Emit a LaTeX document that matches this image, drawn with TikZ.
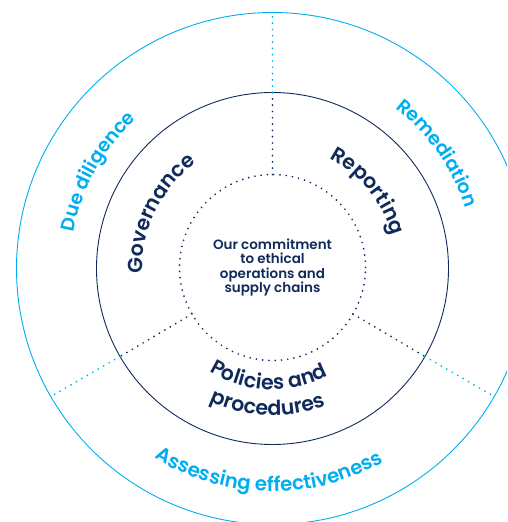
\documentclass[tikz,border=0pt]{standalone}
\usepackage{fontspec}
\setmainfont{Poppins}[UprightFont={* Medium}, BoldFont={* SemiBold}]
\newcommand\navyf{\bfseries\fontsize{20.5}{20.5}\selectfont}
\newcommand\bluef{\bfseries\fontsize{19}{19}\selectfont}
\newcommand\bluefb{\bfseries\fontsize{19.8}{19.8}\selectfont}
\newcommand\corestyle{\bfseries\fontsize{13.5}{14.2}\selectfont}
\usetikzlibrary{decorations.text}
\definecolor{lblue}{RGB}{0,174,239}
\definecolor{navy}{RGB}{16,42,90}
\begin{document}
\begin{tikzpicture}[x=1pt,y=1pt,
  dots/.style={line width=1.9pt, dash pattern=on 0pt off 6.3pt, line cap=round},
  ring/.style={circle, inner sep=0pt, outer sep=0pt},
  navytext/.style={decorate, decoration={text along path, text align=center, text color=navy,
      text={|\navyf|#1}}},
  bluetext/.style={decorate, decoration={text along path, text align=center, text color=lblue,
      text={|\bluef|#1}}}
]
\useasboundingbox (-272.5,-253.5) rectangle (234.5,268.5);
\clip (-272.5,-253.5) rectangle (234.5,268.5);

% rings
\node[ring, draw=lblue, line width=0.9pt, minimum size=512pt] (outer) at (0,0) {};
\node[ring, draw=navy, line width=0.9pt, minimum size=352pt] (inner) at (0,0) {};
\node[ring, draw=navy, dots, minimum size=186pt, align=center, text=navy,
      font=\corestyle] (core) at (0,1)
      {Our commitment\\to ethical\\operations and\\supply chains};

% dividers
\foreach \a in {90,210,330}{
  \draw[dots, navy] (core.\a) -- (inner.\a);
  \draw[dots, lblue] (inner.\a) -- (outer.\a);
}

% inner ring labels
\path[navytext={Governance}] (214:130) arc[start angle=214, end angle=94, radius=130];
\path[navytext={Reporting}] (93:124) arc[start angle=93, end angle=-15, radius=124];
\path[navytext={Policies and}] (198:121) arc[start angle=198, end angle=338, radius=121];
\path[navytext={procedures}] (198:147) arc[start angle=198, end angle=338, radius=147];

% outer ring labels
\path[bluetext={Due diligence}] (206:202) arc[start angle=206, end angle=96, radius=202];
\path[bluetext={Remediation}] (90:202) arc[start angle=90, end angle=-20, radius=202];
\path[decorate, decoration={text along path, text align=center, text color=lblue,
      text={|\bluefb|Assessing effectiveness}}]
      (204:223) arc[start angle=204, end angle=334, radius=223];
\end{tikzpicture}
\end{document}
